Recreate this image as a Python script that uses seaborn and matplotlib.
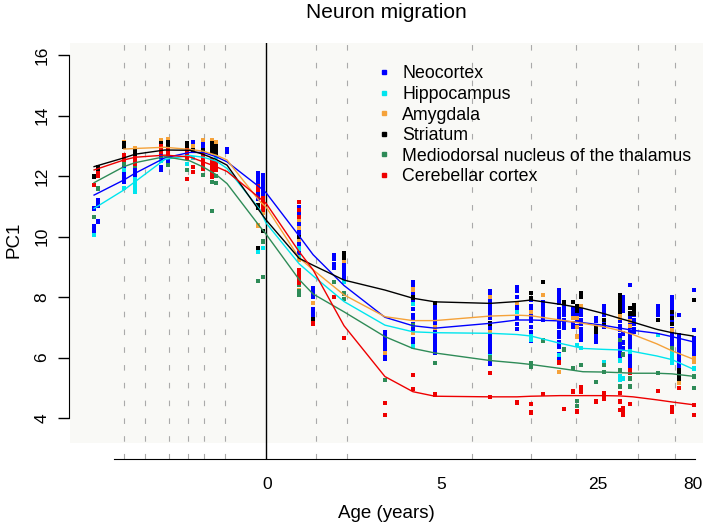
import numpy as np
import pandas as pd
import matplotlib
matplotlib.use("Agg")
import matplotlib.pyplot as plt
from matplotlib.patches import Rectangle
from matplotlib.lines import Line2D
import seaborn as sns

# x positions are log10(post-conception days)
REGIONS = ["Neocortex", "Hippocampus", "Amygdala", "Striatum",
           "Mediodorsal nucleus of the thalamus", "Cerebellar cortex"]
COLORS = ["#0000ff", "#00e5ee", "#f5a23a", "#000000", "#2e8b57", "#ee0000"]

neocortex = {
    1.607: [10.93, 10.35, 10.25, 10.15], 1.626: [11.2, 11.1, 11.0, 10.5],
    1.748: [12.3, 12.2, 12.1, 12.0, 11.9, 11.8, 11.6], 1.800: [12.4, 12.3, 12.2, 12.1, 12.0],
    1.923: [12.69, 12.6, 12.3, 12.2], 1.956: [13.0, 12.9, 12.5], 2.045: [12.8, 12.7],
    2.074: [13.13, 13.05], 2.121: [13.13, 13.05, 12.97], 2.234: [12.89, 12.8],
    2.380: [12.1, 12.0, 11.9, 11.8, 11.7, 11.55, 11.45, 11.35, 11.25],
    2.404: [12.03, 11.93, 11.83, 11.73, 11.63, 11.53, 11.43, 11.33],
    2.574: [10.98, 10.85, 10.7, 10.6, 10.45, 10.3, 10.2, 10.05, 9.9, 9.75, 9.6, 9.45, 9.3],
    2.640: [8.3, 8.2, 8.1, 8.0, 7.6, 7.5, 7.4], 2.739: [9.39, 9.25, 9.1, 8.95],
    2.786: [9.17, 9.05, 8.95, 8.85, 8.75, 8.6, 8.5],
    2.979: [6.85, 6.75, 6.65, 6.55, 6.45, 6.35, 6.25, 6.05, 5.95],
    3.111: [8.5, 8.4, 8.1, 7.9, 7.6, 7.4, 7.3, 7.1, 7.0, 6.9, 6.6, 6.5],
    3.215: [7.74, 7.6, 7.5, 7.35, 7.2, 7.1, 6.9, 6.75, 6.6, 6.45, 6.3, 6.15],
    3.475: [8.18, 8.05, 7.9, 7.75, 7.6, 7.45, 7.3, 7.0, 6.9, 6.75, 6.6, 6.45, 6.3, 6.2,
            6.1, 5.9, 5.78],
    3.602: [8.34, 8.2, 8.0, 7.7, 7.6, 7.3, 7.1, 6.95],
    3.668: [7.9, 7.7, 7.6, 7.4, 7.3, 7.2, 7.0, 6.85, 6.7, 6.55],
    3.725: [7.84, 7.7, 7.55, 7.4, 7.25],
    3.800: [8.23, 8.1, 7.95, 7.8, 7.6, 7.45, 7.3, 7.15, 7.0, 6.85, 6.7, 6.5, 6.35, 6.1, 5.95],
    3.824: [7.68, 7.55, 7.4, 7.25, 7.1, 6.97], 3.866: [7.6, 7.45, 7.3, 7.15, 7.0],
    3.885: [7.5, 7.35, 7.2, 7.05], 3.904: [7.55, 7.4, 7.25, 7.1, 6.95, 6.85, 6.7, 6.6],
    3.975: [7.3, 7.2, 7.05, 6.9, 6.75, 6.6, 6.52], 4.012: [7.68, 7.55, 7.4, 7.25, 7.1, 7.02],
    4.088: [7.35, 7.2, 7.05, 6.9, 6.75, 6.6, 6.45, 6.3, 6.15, 6.0],
    4.102: [8.0, 7.85, 7.7, 7.55, 6.8, 6.5, 6.3],
    4.135: [8.4, 7.47, 7.3, 7.15, 7.0, 6.85, 6.7, 6.55, 6.4, 6.25, 6.1, 5.95, 5.8, 5.65],
    4.154: [7.4, 7.25, 7.1, 6.95, 6.85], 4.267: [7.68, 7.55, 7.4, 7.25],
    4.333: [8.0, 7.85, 7.7, 7.55, 7.4, 7.25, 7.1, 6.95, 6.8, 6.65, 6.5, 6.35, 6.25],
    4.366: [7.4, 6.74, 6.6, 6.45, 6.3, 6.15, 6.0, 5.85, 5.7, 5.59],
    4.437: [8.23, 6.91, 6.64, 6.5, 6.35, 6.2, 6.05, 5.9],
}
hippocampus = {
    1.607: [10.05], 1.748: [12.2, 11.6], 1.800: [11.9, 11.75, 11.6, 11.47], 1.923: [12.5],
    2.045: [12.4], 2.074: [12.6], 2.121: [12.6], 2.182: [12.64], 2.380: [9.5], 2.404: [9.63],
    2.574: [9.6, 9.3], 2.786: [8.5], 3.111: [7.77, 6.36], 3.475: [6.05], 3.602: [7.51],
    3.668: [6.7, 6.6], 3.800: [6.08], 3.885: [6.41], 3.904: [6.31], 4.012: [5.86],
    4.088: [5.9, 5.37, 5.26], 4.102: [5.3], 4.135: [6.2], 4.267: [6.74],
    4.333: [6.25, 6.1, 5.95, 5.81], 4.437: [5.64],
}
amygdala = {
    1.748: [13.11], 1.800: [12.93], 1.923: [13.17], 1.956: [13.22], 2.074: [13.0],
    2.121: [13.2], 2.163: [13.17], 2.182: [13.11], 2.380: [10.37], 2.404: [10.78],
    2.574: [10.55, 10.28, 9.88, 9.22, 8.23], 2.640: [7.81], 2.786: [9.2], 2.979: [6.14],
    3.111: [8.25, 6.81], 3.215: [6.99], 3.475: [8.01, 6.85], 3.602: [7.8], 3.668: [7.51],
    3.725: [8.07], 3.800: [5.53], 3.866: [7.3], 3.885: [7.6, 7.3, 7.0, 6.7], 3.904: [7.7],
    4.088: [7.45, 7.3], 4.135: [7.2, 7.05], 4.333: [6.9], 4.366: [5.15], 4.437: [5.98, 5.86],
}
striatum = {
    1.607: [11.98], 1.626: [12.29, 12.2], 1.748: [13.09, 12.95], 1.800: [12.86, 12.75, 12.63],
    1.923: [13.09, 12.96], 1.956: [13.13, 13.0], 2.045: [13.09, 12.96], 2.074: [12.85],
    2.121: [12.86, 12.75], 2.163: [13.1, 13.0, 12.9, 12.8], 2.182: [13.0, 12.88, 12.76],
    2.380: [11.04, 10.94, 9.62], 2.404: [10.19], 2.574: [9.99], 2.640: [7.26],
    2.786: [9.46, 9.38, 9.3], 3.111: [7.98], 3.215: [7.81], 3.475: [7.13],
    3.668: [8.14, 7.96], 3.725: [8.49], 3.824: [7.82], 3.866: [7.84], 3.885: [7.7, 7.55],
    3.904: [8.12, 8.0], 3.975: [6.98, 6.85], 4.012: [7.24, 7.07],
    4.088: [8.07, 7.95, 7.8, 7.65, 7.51], 4.135: [7.63, 7.46], 4.154: [7.74, 7.6, 7.45],
    4.267: [7.24], 4.333: [7.5, 7.3, 7.1], 4.366: [5.59, 5.45, 5.31], 4.437: [7.9],
}
mediodorsal = {
    1.607: [10.65], 1.626: [11.59], 1.748: [12.4], 1.800: [12.35], 1.956: [12.36],
    2.045: [12.2], 2.121: [12.03], 2.163: [11.81, 10.84], 2.182: [12.0, 11.77],
    2.380: [8.53], 2.404: [9.83, 8.67], 2.574: [8.78, 8.6, 8.4, 8.2, 8.07], 2.739: [8.5],
    2.786: [8.12, 7.93], 2.979: [5.26], 3.111: [7.07], 3.215: [5.81], 3.475: [6.0],
    3.668: [5.81, 5.7], 3.725: [6.56], 3.824: [6.27], 3.866: [5.66], 3.885: [4.56, 4.4],
    3.904: [5.75], 3.975: [5.2], 4.012: [5.75, 5.53], 4.088: [6.58, 5.59, 5.04],
    4.102: [6.1], 4.135: [5.31, 5.04], 4.267: [5.48], 4.333: [6.3], 4.437: [5.37, 5.0],
}
cerebellar = {
    1.607: [11.7], 1.626: [12.0, 12.1], 1.748: [12.69, 12.6, 12.53], 1.800: [12.6, 12.5, 12.4],
    1.923: [13.0, 12.9, 12.8], 1.956: [12.9, 12.8, 12.7], 2.045: [12.86, 12.75, 12.6, 11.9],
    2.074: [12.3, 12.14], 2.121: [12.7, 12.55, 12.4, 12.25],
    2.163: [12.53, 12.4, 12.25, 12.1, 11.98], 2.182: [12.43, 12.3, 12.2],
    2.380: [11.65, 11.54], 2.404: [11.27, 11.15, 11.0, 10.88],
    2.574: [11.15, 10.88, 10.65, 8.89, 8.75, 8.6, 8.46], 2.640: [7.13], 2.739: [8.01],
    2.786: [6.65], 2.979: [4.49, 4.1], 3.111: [5.42, 4.96], 3.215: [4.78], 3.475: [5.48, 4.7],
    3.602: [4.51], 3.668: [4.46, 4.18], 3.725: [4.79], 3.800: [5.84], 3.824: [4.29],
    3.866: [4.87], 3.885: [4.21], 3.904: [5.03, 4.87], 3.975: [4.54], 4.012: [4.82, 4.65],
    4.088: [4.82, 4.54, 4.26], 4.102: [4.32, 4.2, 4.1], 4.135: [5.59, 5.48, 4.46],
    4.267: [4.9], 4.333: [4.37, 4.21], 4.366: [5.0], 4.437: [4.43, 4.1],
}

# smoothed trend per region
fit_age = [1.607, 1.748, 1.800, 1.941, 2.059, 2.121, 2.182, 2.234, 2.390, 2.418, 2.574,
           2.640, 2.786, 2.979, 3.111, 3.215, 3.475, 3.602, 3.668, 3.805, 3.913, 4.007,
           4.088, 4.149, 4.262, 4.333, 4.432]
fit_neocortex = [11.37, 11.87, 12.09, 12.6, 12.78, 12.78, 12.64, 12.47, 11.62, 11.45, 10.02,
                 9.4, 8.38, 7.33, 7.05, 6.97, 7.13, 7.24, 7.24, 7.21, 7.15, 7.07, 6.97, 6.9,
                 6.8, 6.69, 6.52]
fit_hippocampus = [10.93, 11.54, 11.81, 12.55, 12.68, 12.62, 12.5, 12.25, 10.88, 10.45, 9.1,
                   8.7, 7.85, 7.07, 6.85, 6.82, 6.8, 6.76, 6.71, 6.47, 6.3, 6.27, 6.25, 6.2,
                   6.05, 5.93, 5.62]
fit_amygdala = [None, 12.89, 12.91, 12.95, 12.88, 12.82, 12.69, 12.53, 11.15, 10.98, 9.3,
                8.9, 8.07, 7.35, 7.22, 7.22, 7.37, 7.4, 7.38, 7.24, 7.13, 7.02, 6.89, 6.76,
                6.45, 6.22, 5.95]
fit_striatum = [12.31, 12.6, 12.72, 12.86, 12.85, 12.72, 12.55, 12.36, 10.82, 10.55, 9.28,
                9.05, 8.56, 8.23, 7.96, 7.84, 7.79, 7.85, 7.9, 7.76, 7.63, 7.46, 7.29, 7.17,
                6.93, 6.82, 6.71]
fit_mediodorsal = [11.78, 12.31, 12.44, 12.64, 12.5, 12.3, 12.05, 11.75, 10.32, 10.08, 8.58,
                   8.1, 7.51, 6.69, 6.3, 6.15, 5.9, 5.82, 5.77, 5.64, 5.53, 5.52, 5.5, 5.48,
                   5.48, 5.46, 5.38]
fit_cerebellar = [12.2, 12.53, 12.62, 12.69, 12.63, 12.47, 12.31, 12.15, 11.26, 11.1, 9.5,
                  8.9, 7.05, 5.37, 4.87, 4.72, 4.7, 4.7, 4.72, 4.74, 4.74, 4.74, 4.73, 4.7,
                  4.6, 4.53, 4.44]

# period boundaries, post-conception days
period_days = [56, 70, 91, 112, 133, 168, 449, 631, 2457, 4649, 7571, 14876, 22181]
birth = 2.42
tick_pos = [2.423, 3.243, 3.984, 4.432]
tick_labels = ["0", "5", "25", "80"]

plt.rcParams["font.family"] = ["Liberation Sans", "DejaVu Sans"]

points = pd.DataFrame(
    [(r, a, v) for r, d in zip(REGIONS, [neocortex, hippocampus, amygdala, striatum,
                                          mediodorsal, cerebellar])
     for a, vals in d.items() for v in vals],
    columns=["region", "age", "pc1"])
fits = pd.DataFrame(
    [(r, a, v) for r, f in zip(REGIONS, [fit_neocortex, fit_hippocampus, fit_amygdala,
                                          fit_striatum, fit_mediodorsal, fit_cerebellar])
     for a, v in zip(fit_age, f) if v is not None],
    columns=["region", "age", "pc1"])
palette = dict(zip(REGIONS, COLORS))

fig = plt.figure(figsize=(7.11, 5.26), dpi=100)
ax = fig.add_axes([69 / 711, 67 / 526, 634 / 711, 416 / 526])
ax.set_xlim(1.4887, 4.4793)
ax.set_ylim(2.645, 16.397)
ax.add_patch(Rectangle((1.4934, 3.174), 4.4793 - 1.4934, 16.397 - 3.174,
                       facecolor="#f9f9f6", edgecolor="none", zorder=0))

for d in period_days:
    ax.axvline(np.log10(d), color="#aaaaaa", lw=0.8, dashes=(5, 11), zorder=1)
ax.axvline(birth, color="black", lw=1.0, zorder=1)

sns.scatterplot(data=points, x="age", y="pc1", hue="region", palette=palette,
                marker="s", s=10, linewidth=0, legend=False, ax=ax, zorder=3)
sns.lineplot(data=fits, x="age", y="pc1", hue="region", palette=palette,
             estimator=None, sort=False, lw=1.0, legend=False, ax=ax, zorder=4)

for s in ["top", "right"]:
    ax.spines[s].set_visible(False)
ax.spines["left"].set_bounds(4, 16)
ax.spines["bottom"].set_bounds(1.701, 4.441)
ax.set_yticks(range(4, 17, 2))
ax.set_xticks(tick_pos, tick_labels)
ax.tick_params(axis="y", length=8, width=1, labelsize=12.5, pad=6, labelrotation=90)
for lab in ax.get_yticklabels():
    lab.set_va("center")
ax.tick_params(axis="x", length=0, labelsize=12.5, pad=13)
ax.set_xlabel("")
ax.set_ylabel("")

handles = [Line2D([], [], marker="s", ls="none", color=c, markersize=3.5) for c in COLORS]
ax.legend(handles, REGIONS, loc="upper left", bbox_to_anchor=(0.486, 0.946), frameon=False,
          fontsize=12.8, handlelength=0.8, handletextpad=0.6, labelspacing=0.2,
          borderpad=0, borderaxespad=0)

fig.text(386 / 711, 1 - 13 / 526, "Neuron migration", ha="center", va="center", fontsize=15)
fig.text(386 / 711, 1 - 513 / 526, "Age (years)", ha="center", va="center", fontsize=13.5)
fig.text(14 / 711, 1 - 240 / 526, "PC1", ha="center", va="center", rotation=90, fontsize=13.5)

fig.savefig("out.png", dpi=100)
